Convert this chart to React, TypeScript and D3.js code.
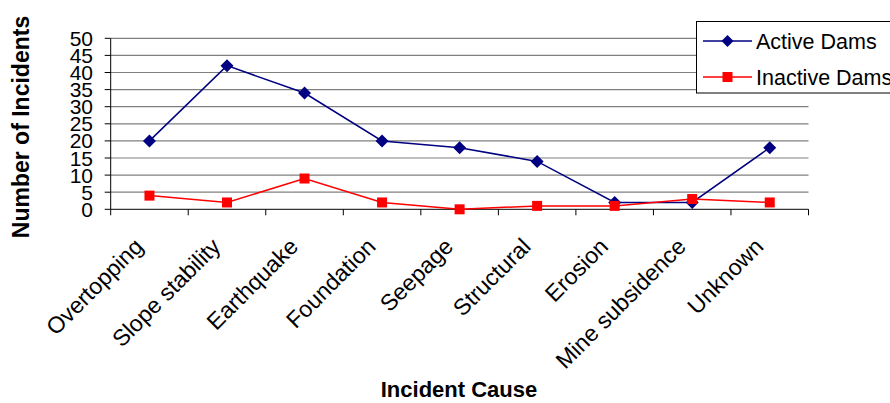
import React from "react";
import * as d3 from "d3";

const categories = [
  "Overtopping",
  "Slope stability",
  "Earthquake",
  "Foundation",
  "Seepage",
  "Structural",
  "Erosion",
  "Mine subsidence",
  "Unknown",
];
const activeDams = [20, 42, 34, 20, 18, 14, 2, 2, 18];
const inactiveDams = [4, 2, 9, 2, 0, 1, 1, 3, 2];
const yTicks = [0, 5, 10, 15, 20, 25, 30, 35, 40, 45, 50];

const W = 890;
const H = 403;
const FONT = "'Liberation Sans', Arial, sans-serif";

export default function App() {
  const x = d3.scaleBand<string>().domain(categories).range([110.7, 808.5]);
  const y = d3.scaleLinear().domain([0, 50]).range([209.3, 38.3]);
  const cx = (c: string) => (x(c) as number) + x.bandwidth() / 2;

  const line = d3
    .line<number>()
    .x((_, i) => cx(categories[i]))
    .y((d) => y(d));

  const boundaries = categories.map((c) => x(c) as number).concat([808.5]);
  const [x0, x1] = x.range();

  return (
    <svg
      width={W}
      height={H}
      style={{ position: "absolute", left: 0, top: 0, background: "#fff" }}
      fontFamily={FONT}
    >
      <rect width={W} height={H} fill="#fff" />
      {/* gridlines */}
      {yTicks
        .filter((t) => t !== 0)
        .map((t) => (
          <line key={t} x1={x0} x2={x1} y1={y(t)} y2={y(t)} stroke="#808080" strokeWidth={1.2} />
        ))}
      {/* y axis */}
      <line x1={x0} x2={x0} y1={y(50)} y2={y(0)} stroke="#000" strokeWidth={1} />
      {yTicks.map((t) => (
        <g key={t}>
          <line x1={x0 - 6} x2={x0} y1={y(t)} y2={y(t)} stroke="#000" />
          <text x={93} y={y(t) + 7.5} textAnchor="end" fontSize={21} fill="#000">
            {t}
          </text>
        </g>
      ))}
      {/* x axis */}
      <line x1={x0} x2={x1} y1={y(0)} y2={y(0)} stroke="#000" strokeWidth={1} />
      {boundaries.map((b, i) => (
        <line key={i} x1={b} x2={b} y1={y(0)} y2={y(0) + 6} stroke="#000" />
      ))}
      {categories.map((c) => (
        <text
          key={c}
          transform={`translate(${cx(c) - 5},248) rotate(-45)`}
          textAnchor="end"
          fontSize={23}
          fill="#000"
        >
          {c}
        </text>
      ))}
      {/* series */}
      <path d={line(activeDams) || ""} fill="none" stroke="#000080" strokeWidth={1.5} />
      <path d={line(inactiveDams) || ""} fill="none" stroke="#ff0000" strokeWidth={1.5} />
      {activeDams.map((v, i) => {
        const px = cx(categories[i]);
        const py = y(v);
        const r = 6.5;
        return (
          <path
            key={i}
            d={`M${px},${py - r}L${px + r},${py}L${px},${py + r}L${px - r},${py}Z`}
            fill="#000080"
          />
        );
      })}
      {inactiveDams.map((v, i) => {
        const px = cx(categories[i]);
        const py = y(v);
        return <rect key={i} x={px - 5} y={py - 5} width={10} height={10} fill="#ff0000" />;
      })}
      {/* axis titles */}
      <text
        transform="translate(29,127) rotate(-90)"
        textAnchor="middle"
        fontSize={23}
        fontWeight="bold"
        fill="#000"
      >
        Number of Incidents
      </text>
      <text x={459} y={397} textAnchor="middle" fontSize={22} fontWeight="bold" fill="#000">
        Incident Cause
      </text>
      {/* legend */}
      <g>
        <rect x={696.5} y={21.5} width={210} height={71.5} fill="#fff" stroke="#000" strokeWidth={1} />
        <line x1={703} x2={752} y1={41} y2={41} stroke="#000080" strokeWidth={1.5} />
        <path d="M727.5,35L733.5,41L727.5,47L721.5,41Z" fill="#000080" />
        <text x={756} y={49} fontSize={21.5} fill="#000">
          Active Dams
        </text>
        <line x1={703} x2={752} y1={77} y2={77} stroke="#ff0000" strokeWidth={1.5} />
        <rect x={722.5} y={72} width={10} height={10} fill="#ff0000" />
        <text x={756} y={85} fontSize={21.5} fill="#000">
          Inactive Dams
        </text>
      </g>
    </svg>
  );
}
